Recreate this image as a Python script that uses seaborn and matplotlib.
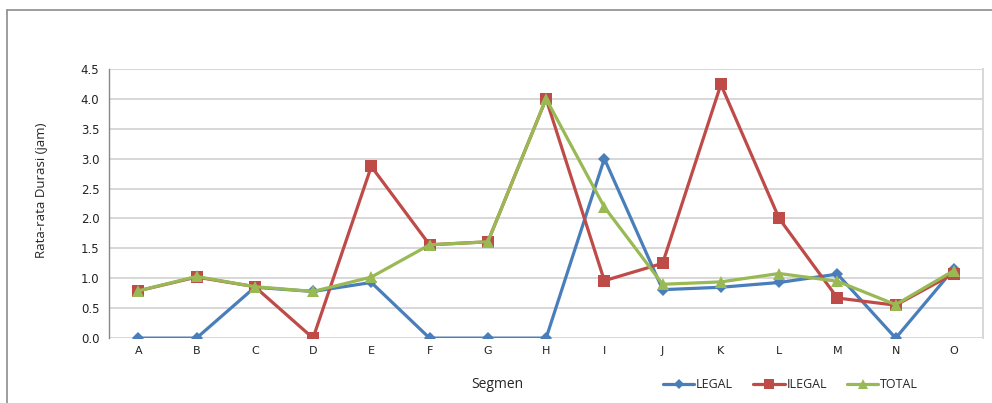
import pandas as pd
import matplotlib.pyplot as plt
import seaborn as sns
from matplotlib.lines import Line2D

# Segment labels and average duration (hours) per series
segmen = ['A', 'B', 'C', 'D', 'E', 'F', 'G', 'H', 'I', 'J', 'K', 'L', 'M', 'N', 'O']
legal = [0, 0, 0.85, 0.78, 0.93, 0, 0, 0, 3.0, 0.81, 0.85, 0.93, 1.07, 0, 1.16]
ilegal = [0.79, 1.02, 0.86, 0, 2.87, 1.56, 1.61, 4.0, 0.96, 1.25, 4.24, 2.0, 0.67, 0.55, 1.08]
total = [0.79, 1.03, 0.86, 0.78, 1.02, 1.56, 1.61, 4.0, 2.19, 0.9, 0.94, 1.08, 0.95, 0.56, 1.13]

series = ['LEGAL', 'ILEGAL', 'TOTAL']
colors = {'LEGAL': '#4A7EBB', 'ILEGAL': '#BE4B48', 'TOTAL': '#98B954'}
markers = {'LEGAL': 'D', 'ILEGAL': 's', 'TOTAL': '^'}
msizes = {'LEGAL': 6, 'ILEGAL': 8, 'TOTAL': 8.5}

df = pd.DataFrame({
    'Segmen': segmen * 3,
    'pos': list(range(len(segmen))) * 3,
    'Durasi': legal + ilegal + total,
    'Seri': ['LEGAL'] * 15 + ['ILEGAL'] * 15 + ['TOTAL'] * 15,
})

sns.set_style('white')
plt.rcParams['font.family'] = ['DejaVu Sans']

fig = plt.figure(figsize=(9.92, 4.03), dpi=100)
ax = fig.add_axes([0.110, 0.161, 0.881, 0.668])

for s in series:
    sub = df[df['Seri'] == s]
    sns.lineplot(data=sub, x='pos', y='Durasi', ax=ax, color=colors[s],
                 marker=markers[s], markersize=msizes[s], markeredgewidth=0,
                 linewidth=2.3, label=s, legend=False)

ax.set_xlim(-0.5, len(segmen) - 0.5)
ax.set_ylim(0, 4.5)
ax.set_yticks([i * 0.5 for i in range(10)])
ax.set_yticklabels([f'{i * 0.5:.1f}' for i in range(10)])
ax.set_xticks(range(len(segmen)))
ax.set_xticklabels(segmen)
ax.grid(axis='y', color='#d4d4d4', linewidth=1.3)
ax.set_axisbelow(True)
ax.tick_params(axis='y', length=4, color='#888888', labelsize=8.5, colors='#222222', pad=3)
ax.tick_params(axis='x', length=0, labelsize=8, colors='#222222', pad=6)

for side in ['top', 'bottom']:
    ax.spines[side].set_visible(False)
ax.spines['left'].set_color('#888888')
ax.spines['left'].set_linewidth(1)
ax.spines['right'].set_color('#d4d4d4')
ax.spines['right'].set_linewidth(1.3)

ax.set_xlabel('')
ax.set_ylabel('Rata-rata Durasi (jam)', fontsize=9.5, family='Open Sans')
ax.yaxis.set_label_coords(-0.070, 0.55)

fig.text(0.501, 0.045, 'Segmen', fontsize=10, family='Open Sans', ha='center', va='center')

handles = [Line2D([0], [0], color=colors[s], marker=markers[s], markersize=msizes[s] - 1,
                  markeredgewidth=0, linewidth=2.3) for s in series]
fig.legend(handles, series, loc='center', bbox_to_anchor=(0.797, 0.045), ncol=3,
           frameon=False, handlelength=2.5, handletextpad=0.15, columnspacing=1.6,
           prop={'family': 'Open Sans', 'size': 9})

# outer chart frame (top and left edges visible)
fig.add_artist(Line2D([0.007, 1.0], [0.975, 0.975], color='#8c8c8c', linewidth=1.2,
                      transform=fig.transFigure))
fig.add_artist(Line2D([0.007, 0.007], [0.0, 0.975], color='#8c8c8c', linewidth=1.2,
                      transform=fig.transFigure))

fig.savefig('out.png', dpi=100)
